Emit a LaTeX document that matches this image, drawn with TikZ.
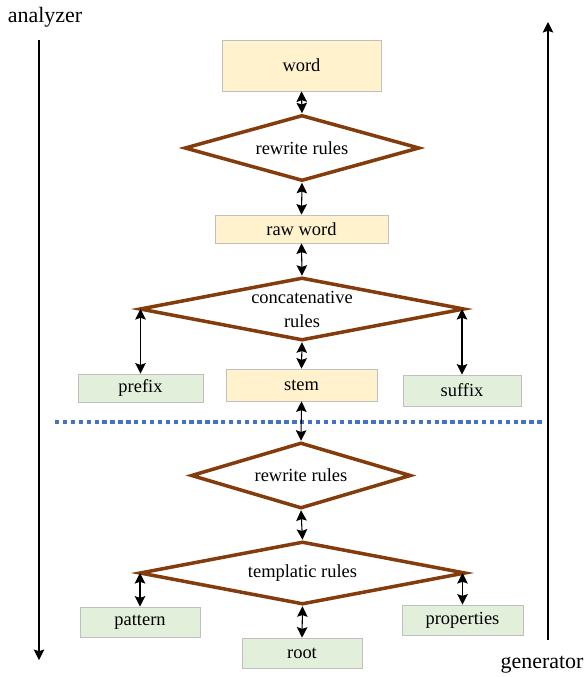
\documentclass[tikz,border=0pt]{standalone}
\usepackage{fontspec}
\setmainfont{Liberation Serif}
\usetikzlibrary{shapes.geometric,arrows.meta}
\definecolor{boxyellow}{RGB}{255,242,204}
\definecolor{boxgreen}{RGB}{226,239,218}
\definecolor{rulebrown}{RGB}{133,60,12}
\definecolor{sepblue}{RGB}{68,114,196}

\begin{document}
\begin{tikzpicture}[x=0.02cm,y=-0.02cm,
        font=\fontsize{10.5}{12.6}\selectfont,
        form/.style={draw=black!25,line width=0.4pt,fill=boxyellow,inner sep=0pt},
        part/.style={draw=black!25,line width=0.4pt,fill=boxgreen,inner sep=0pt},
        rules/.style={diamond,draw=rulebrown,line width=2pt,fill=white,inner sep=0pt,align=center},
        side/.style={font=\fontsize{12.5}{15}\selectfont},
        dbl/.style={{Stealth[length=6pt,width=6pt,inset=1pt]}-{Stealth[length=6pt,width=6pt,inset=1pt]},semithick},
        dir/.style={-{Stealth[length=6pt,width=6pt,inset=1pt]},semithick}]
        \useasboundingbox (0,0) rectangle (585,677);
        % surface side
        \node[form,minimum width=3.18cm,minimum height=1.02cm] (word) at (301.5,65.5) {word};
        \node[rules,aspect=3.54,minimum width=4.7cm,minimum height=1.32cm] (rw1) at (302,148) {rewrite rules};
        \node[form,minimum width=3.46cm,minimum height=0.56cm] (raw) at (301.5,229) {raw word};
        \node[rules,aspect=5.2,minimum width=6.5cm,minimum height=1.26cm] (cr) at (302,309) {};
        \node at (302,297) {concatenative};
        \node at (302,321) {rules};
        \node[part,minimum width=2.5cm,minimum height=0.56cm] (pfx) at (140.5,388) {prefix};
        \node[form,minimum width=3.02cm,minimum height=0.64cm] (stem) at (301.5,385) {stem};
        \node[part,minimum width=2.36cm,minimum height=0.62cm] (sfx) at (462,390.5) {suffix};
        % separator
        \coordinate (sepL) at (55,422);
        \coordinate (sepR) at (545,422);
        \draw[sepblue,line width=2pt,dash pattern=on 2.5pt off 2pt] (sepL) -- (sepR);
        % deep side
        \node[rules,aspect=3.3,minimum width=4.4cm,minimum height=1.32cm] (rw2) at (301,475.5) {rewrite rules};
        \node[rules,aspect=5.2,minimum width=6.52cm,minimum height=1.26cm] (tr) at (302.5,573) {templatic rules};
        \node[part,minimum width=2.4cm,minimum height=0.6cm] (pat) at (140,622) {pattern};
        \node[part,minimum width=2.4cm,minimum height=0.6cm] (root) at (302,653) {root};
        \node[part,minimum width=2.42cm,minimum height=0.6cm] (prop) at (462.5,620) {properties};
        % links
        \draw[dbl] (word.south) -- (rw1.north);
        \draw[dbl] (rw1.south) -- (raw.north);
        \draw[dbl] (raw.south) -- (cr.north);
        \draw[dbl] (cr.south) -- (stem.north);
        \draw[dbl] (pfx.north) -- (pfx.north |- cr.west);
        \draw[dbl] (sfx.north) -- (sfx.north |- cr.east);
        \draw[dbl] (stem.south) -- (rw2.north);
        \draw[dbl] (rw2.south) -- (tr.north);
        \draw[dbl] (pat.north) -- (pat.north |- tr.west);
        \draw[dbl] (root.north) -- (tr.south);
        \draw[dbl] (prop.north) -- (prop.north |- tr.east);
        % directions
        \node[side] (ana) at (45,17) {analyzer};
        \node[side] (gen) at (542,665) {generator};
        \coordinate (anaStart) at (39,40);
        \coordinate (anaEnd) at (39,660);
        \coordinate (genStart) at (548,640);
        \coordinate (genEnd) at (548,22);
        \draw[dir] (anaStart) -- (anaEnd);
        \draw[dir] (genStart) -- (genEnd);
\end{tikzpicture}
\end{document}
